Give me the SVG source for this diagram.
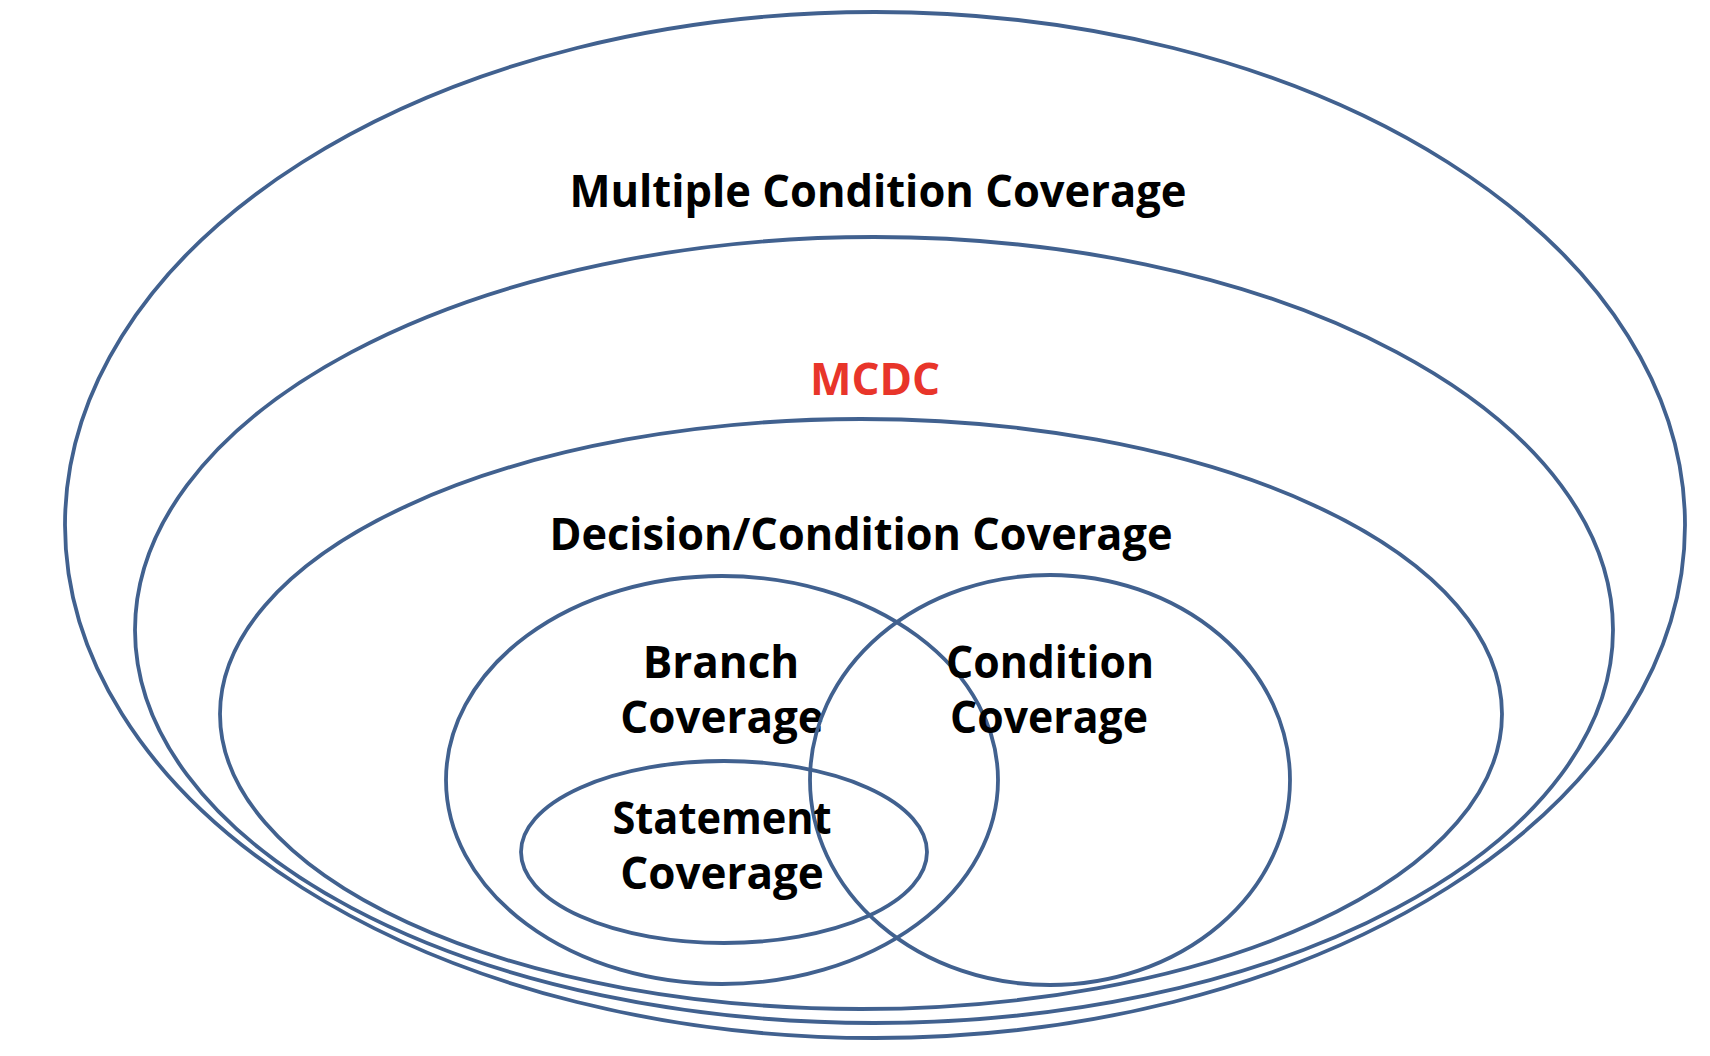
<svg xmlns="http://www.w3.org/2000/svg" width="1710" height="1056" viewBox="0 0 1710 1056">
<style>
.ring{fill:none;stroke:#41618f;stroke-width:3.8}
.lbl{font-family:"Open Sans","Liberation Sans",sans-serif;font-weight:bold;font-size:44px;fill:#000;text-anchor:middle}
.red{fill:#e8352a}
</style>
<rect width="1710" height="1056" fill="#fff"/>
<g id="multiple-condition">
<ellipse class="ring" cx="875" cy="525" rx="810" ry="513"/>
<text class="lbl" x="878" y="207" textLength="617" lengthAdjust="spacingAndGlyphs">Multiple Condition Coverage</text>
</g>
<g id="mcdc">
<ellipse class="ring" cx="874" cy="630" rx="739" ry="393"/>
<text class="lbl red" x="875" y="395">MCDC</text>
</g>
<g id="decision-condition">
<ellipse class="ring" cx="861" cy="714" rx="641" ry="295"/>
<text class="lbl" x="861" y="550" textLength="623" lengthAdjust="spacingAndGlyphs">Decision/Condition Coverage</text>
</g>
<g id="branch">
<ellipse class="ring" cx="722" cy="780" rx="276" ry="204"/>
<text class="lbl" x="721" y="678">Branch</text>
<text class="lbl" x="722" y="733">Coverage</text>
</g>
<g id="condition">
<ellipse class="ring" cx="1050" cy="780" rx="240" ry="205"/>
<text class="lbl" x="1050" y="678" textLength="208" lengthAdjust="spacingAndGlyphs">Condition</text>
<text class="lbl" x="1049" y="733" textLength="198" lengthAdjust="spacingAndGlyphs">Coverage</text>
</g>
<g id="statement">
<ellipse class="ring" cx="724" cy="852" rx="203" ry="91"/>
<text class="lbl" x="722" y="834" textLength="219" lengthAdjust="spacingAndGlyphs">Statement</text>
<text class="lbl" x="722" y="889">Coverage</text>
</g>
<g id="connectors"></g>
</svg>
